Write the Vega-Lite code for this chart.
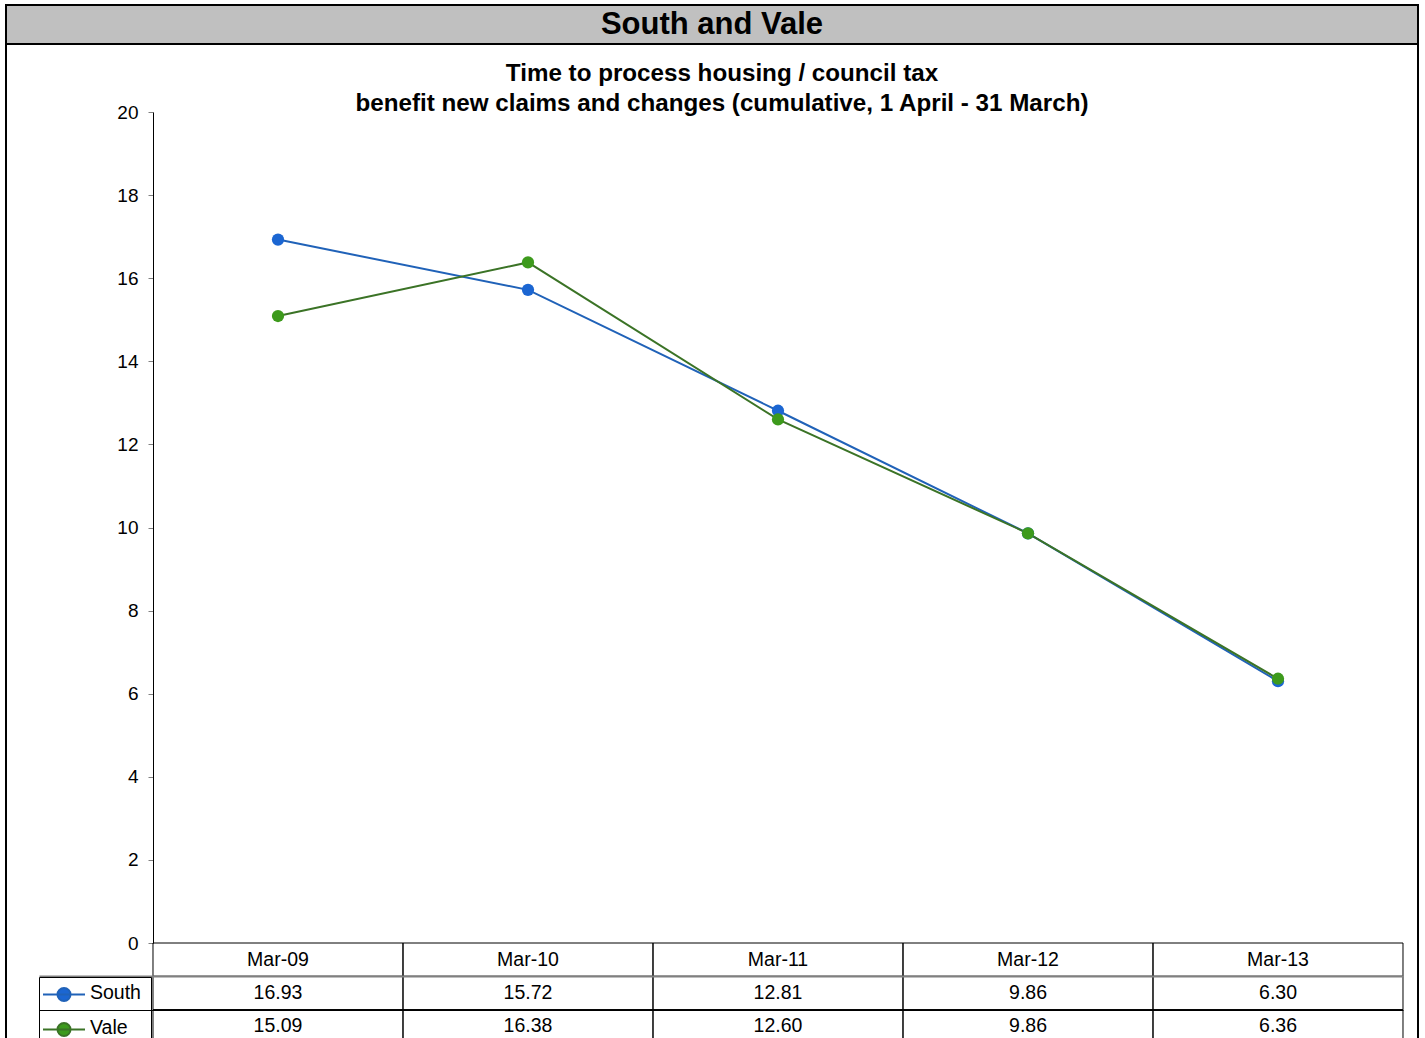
{
  "$schema": "https://vega.github.io/schema/vega-lite/v6.json",
  "padding": {"left": 5, "top": 4, "right": 0, "bottom": -4},
  "background": "white",
  "config": {
    "font": "Liberation Sans",
    "view": {"stroke": "black", "strokeWidth": 2}
  },
  "datasets": {
    "times": [
      {"period": "Mar-09", "series": "South", "value": 16.93},
      {"period": "Mar-10", "series": "South", "value": 15.72},
      {"period": "Mar-11", "series": "South", "value": 12.81},
      {"period": "Mar-12", "series": "South", "value": 9.86},
      {"period": "Mar-13", "series": "South", "value": 6.30},
      {"period": "Mar-09", "series": "Vale", "value": 15.09},
      {"period": "Mar-10", "series": "Vale", "value": 16.38},
      {"period": "Mar-11", "series": "Vale", "value": 12.60},
      {"period": "Mar-12", "series": "Vale", "value": 9.86},
      {"period": "Mar-13", "series": "Vale", "value": 6.36}
    ]
  },
  "spacing": 0,
  "bounds": "flush",
  "vconcat": [
    {
      "width": 1412,
      "height": 39,
      "view": {"fill": "#c0c0c0", "stroke": "black", "strokeWidth": 2},
      "data": {"values": [{"heading": "South and Vale"}]},
      "mark": {"type": "text", "fontSize": 31, "fontWeight": "bold", "color": "black", "baseline": "middle"},
      "encoding": {"text": {"field": "heading"}}
    },
    {
      "width": 1412,
      "height": 999,
      "view": {"fill": "white", "stroke": "black", "strokeWidth": 2},
      "title": {
        "text": ["Time to process housing / council tax", "benefit new claims and changes (cumulative, 1 April - 31 March)"],
        "fontSize": 24.2,
        "fontWeight": "bold",
        "color": "black",
        "anchor": "middle",
        "frame": "group",
        "offset": -91,
        "baseline": "alphabetic",
        "lineHeight": 30,
        "dx": 10
      },
      "data": {"name": "times"},
      "encoding": {
        "x": {
          "field": "period",
          "type": "nominal",
          "sort": null,
          "axis": null,
          "scale": {"paddingInner": 0, "paddingOuter": 0.324, "align": 0.9074}
        }
      },
      "layer": [
        {
          "layer": [
            {
              "mark": {"type": "line", "strokeWidth": 2},
              "encoding": {
                "y": {
                  "field": "value",
                  "type": "quantitative",
                  "scale": {"domain": [0, 20], "range": [899, 68], "nice": false, "zero": false},
                  "axis": {
                    "orient": "left",
                    "offset": -147,
                    "values": [0, 2, 4, 6, 8, 10, 12, 14, 16, 18, 20],
                    "domain": true,
                    "domainColor": "black",
                    "domainWidth": 1,
                    "grid": false,
                    "tickSize": 5,
                    "tickColor": "#808080",
                    "labelPadding": 10,
                    "labelFontSize": 19,
                    "labelColor": "black",
                    "labelFont": "Liberation Sans",
                    "title": null
                  }
                },
                "stroke": {
                  "field": "series",
                  "type": "nominal",
                  "scale": {"domain": ["South", "Vale"], "range": ["#2062b8", "#3b7326"]},
                  "legend": {
                    "title": null,
                    "orient": "none",
                    "legendX": 33,
                    "legendY": 972,
                    "direction": "vertical",
                    "symbolType": "M-2,-0.381H2M0.62,-0.381A0.62,0.62,0,1,1,-0.62,-0.381A0.62,0.62,0,1,1,0.62,-0.381Z",
                    "symbolSize": 441,
                    "symbolStrokeWidth": 2,
                    "symbolOffset": 3.5,
                    "labelFontSize": 19.5,
                    "labelColor": "black",
                    "labelBaseline": "alphabetic",
                    "labelOffset": 14.5,
                    "rowPadding": 11,
                    "padding": 10,
                    "strokeColor": "black",
                    "zindex": 0
                  }
                }
              }
            },
            {
              "mark": {"type": "point", "filled": true, "size": 150, "opacity": 1},
              "encoding": {
                "y": {"field": "value", "type": "quantitative"},
                "fill": {
                  "field": "series",
                  "type": "nominal",
                  "scale": {"domain": ["South", "Vale"], "range": ["#1b66d2", "#3d9a1c"]},
                  "legend": {
                    "title": null,
                    "orient": "none",
                    "legendX": 33,
                    "legendY": 972,
                    "direction": "vertical",
                    "symbolType": "M-2,-0.381H2M0.62,-0.381A0.62,0.62,0,1,1,-0.62,-0.381A0.62,0.62,0,1,1,0.62,-0.381Z",
                    "symbolSize": 441,
                    "symbolStrokeWidth": 2,
                    "symbolOffset": 3.5,
                    "labelFontSize": 19.5,
                    "labelColor": "black",
                    "labelBaseline": "alphabetic",
                    "labelOffset": 14.5,
                    "rowPadding": 11,
                    "padding": 10,
                    "strokeColor": "black",
                    "zindex": 0
                  }
                }
              }
            }
          ]
        },
        {
          "layer": [
            {
              "mark": {"type": "rect", "fillOpacity": 0, "stroke": "black", "strokeWidth": 1},
              "encoding": {
                "y": {
                  "field": "series",
                  "type": "nominal",
                  "scale": {"domain": ["header", "South", "Vale"], "range": [899, 999], "paddingInner": 0, "paddingOuter": 0},
                  "axis": {
                    "orient": "right",
                    "offset": -15,
                    "values": ["South", "Vale"],
                    "labels": false,
                    "domain": false,
                    "grid": false,
                    "tickBand": "extent",
                    "tickSize": -1364,
                    "tickColor": {"condition": {"test": "datum.value === 'South'", "value": "black"}, "value": "#808080"},
                    "tickWidth": {"condition": {"test": "datum.value === 'South'", "value": 1}, "value": 2},
                    "title": null,
                    "zindex": 1
                  }
                }
              }
            },
            {
              "transform": [{"filter": "datum.series === 'South'"}],
              "mark": {"type": "rect", "fillOpacity": 0, "stroke": "black", "strokeWidth": 1},
              "encoding": {"y": {"datum": "header", "type": "nominal"}}
            },
            {
              "mark": {"type": "text", "fontSize": 19.5, "color": "black", "baseline": "middle"},
              "encoding": {
                "y": {"field": "series", "type": "nominal"},
                "text": {"field": "value", "type": "quantitative", "format": ".2f"}
              }
            },
            {
              "transform": [{"filter": "datum.series === 'South'"}],
              "mark": {"type": "text", "fontSize": 19.5, "color": "black", "baseline": "middle"},
              "encoding": {
                "y": {"datum": "header", "type": "nominal"},
                "text": {"field": "period", "type": "nominal"}
              }
            }
          ]
        }
      ],
      "resolve": {"scale": {"y": "independent"}, "axis": {"y": "independent"}}
    }
  ]
}
